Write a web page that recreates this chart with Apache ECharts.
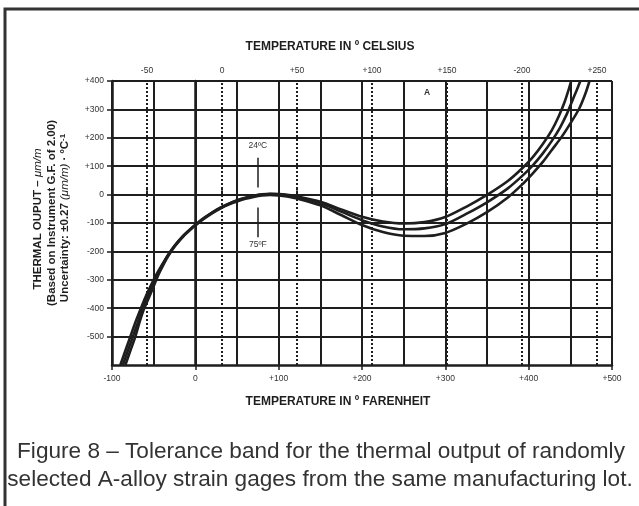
<!DOCTYPE html>
<html><head><meta charset="utf-8">
<script src="https://cdn.jsdelivr.net/npm/echarts@6/dist/echarts.min.js"></script>
<style>html,body{margin:0;padding:0;background:#fff}#c{width:639px;height:506px}</style>
</head><body><div id="c"></div>
<script>
// ---- data (°F, µm/m) ----
const curveA = [[-90,-600],[-84,-550],[-78,-500],[-72,-450],[-66,-405],[-60,-362],[-53,-318],[-47,-283],[-41,-252],[-36,-228],[-32,-210],[-25,-181],[-15,-147],[-5,-119],[0,-106],[10,-83],[20,-63],[30,-46],[40,-32],[50,-20],[60,-11],[70,-4],[80,1],[90,3],[100,2],[110,-1],[125,-8],[150,-25],[175,-52],[200,-78],[225,-95],[250,-102],[275,-97],[300,-79],[325,-43],[350,-1],[375,48],[392,92],[405,132],[417,178],[428,228],[436,275],[443,325],[448,370],[451,400]];
const curveB = [[-87,-600],[-81,-550],[-75,-500],[-69,-450],[-64,-406],[-57,-358],[-51,-316],[-45,-280],[-40,-251],[-36,-229],[-32,-209],[-25,-180],[-15,-146],[-5,-119],[0,-107],[10,-84],[20,-64],[30,-47],[40,-33],[50,-21],[60,-12],[70,-5],[80,0],[90,2],[100,1],[110,-2],[125,-10],[150,-30],[175,-60],[200,-90],[225,-112],[250,-122],[275,-119],[300,-104],[325,-68],[350,-27],[375,22],[392,65],[405,103],[417,145],[428,190],[438,238],[446,285],[453,335],[458,370],[462,400]];
const curveC = [[-84,-600],[-78,-550],[-72,-500],[-67,-450],[-62,-406],[-55,-358],[-49,-316],[-44,-280],[-39,-251],[-35,-229],[-31,-209],[-24,-180],[-14,-146],[-4,-119],[0,-109],[10,-86],[20,-66],[30,-49],[40,-35],[50,-24],[60,-15],[70,-8],[80,-3],[90,-1],[100,-3],[110,-7],[125,-16],[150,-38],[175,-72],[200,-107],[225,-132],[250,-145],[275,-146],[300,-135],[325,-103],[350,-62],[375,-10],[392,35],[405,75],[417,115],[428,158],[440,205],[451,255],[461,305],[468,355],[473,400]];
const yTicks = [400,300,200,100,0,-100,-200,-300,-400,-500];
const fTicks = [-100,0,100,200,300,400,500];
const celsiusTicks = [-50,0,50,100,150,200,250];
const celsiusLabels = ['-50','0','+50','+100','+150','-200','+250'];
const markerF = 75;
const markerUpper = [130,25];
const markerLower = [-45,-150];
const markerLabels = ['24ºC','75ºF'];

const cToF = c => c*1.8+32;
const celsiusInF = celsiusTicks.map(cToF);
const sign = v => v>0 ? '+'+v : String(v);
const DARK = '#1e1e1e';
const NARROW = '"Liberation Sans Narrow","Liberation Sans",Arial,sans-serif';

const chart = echarts.init(document.getElementById('c'), null, {renderer:'canvas'});
const lineSeries = (d) => ({type:'line', data:d, smooth:0.3, symbol:'none', xAxisIndex:0, yAxisIndex:0,
  lineStyle:{color:DARK, width:2.6}, clip:true, silent:true, z:5});

const option = {
  animation:false,
  backgroundColor:'#fff',
  grid:{left:112, top:81, width:500, height:284, containLabel:false},
  xAxis:[{
    type:'value', min:-100, max:500, position:'bottom',
    axisLine:{show:true, onZero:false, lineStyle:{color:DARK, width:2.5}},
    axisTick:{show:true, customValues:fTicks, length:5, lineStyle:{color:DARK, width:1.5}},
    axisLabel:{customValues:fTicks, formatter:v=>sign(v), color:'#333', fontSize:8.5, fontFamily:NARROW, margin:9},
    splitLine:{show:false}
  },{
    type:'value', min:-100, max:500, position:'top',
    axisLine:{show:false},
    axisTick:{show:true, customValues:celsiusInF, length:6, inside:false, lineStyle:{color:DARK, width:2, type:[2,2]}},
    axisLabel:{customValues:celsiusInF, formatter:v=>{const i=celsiusInF.findIndex(x=>Math.abs(x-v)<0.01);return i>=0?celsiusLabels[i]:'';}, color:'#333', fontSize:8.5, fontFamily:NARROW, margin:6},
    splitLine:{show:false}
  },{
    type:'value', min:-100, max:500, interval:50, position:'bottom',
    axisLine:{show:false}, axisTick:{show:false}, axisLabel:{show:false},
    splitLine:{show:true, lineStyle:{color:DARK, width:2}}
  }],
  yAxis:[{
    type:'value', min:-600, max:400, interval:100,
    axisLine:{show:true, onZero:false, lineStyle:{color:DARK, width:2.5}},
    axisTick:{show:true, customValues:yTicks, length:5, lineStyle:{color:DARK, width:1.5}},
    axisLabel:{customValues:yTicks, formatter:v=>sign(v), color:'#333', fontSize:8.5, fontFamily:NARROW, margin:8},
    splitLine:{show:true, lineStyle:{color:DARK, width:2}}
  },{
    type:'value', min:-600, max:400, position:'right',
    axisLine:{show:true, lineStyle:{color:DARK, width:2.5}}, axisTick:{show:false}, axisLabel:{show:false}, splitLine:{show:false}
  }],
  series:[
    Object.assign(lineSeries(curveA), {
      markLine:{silent:true, symbol:'none', label:{show:false}, animation:false,
        lineStyle:{color:DARK, width:2, type:[2,2]},
        data: celsiusInF.map(f=>({xAxis:f}))
      }
    }),
    lineSeries(curveB),
    lineSeries(curveC),
    {type:'line', data:[], xAxisIndex:0, yAxisIndex:0, silent:true,
      markLine:{silent:true, symbol:'none', label:{show:false}, animation:false,
        lineStyle:{color:DARK, width:1.5, type:'solid'},
        data:[
          [{coord:[markerF, markerUpper[0]]},{coord:[markerF, markerUpper[1]]}],
          [{coord:[markerF, markerLower[0]]},{coord:[markerF, markerLower[1]]}]
        ]},
      markPoint:{silent:true, symbol:'rect', symbolSize:1, itemStyle:{color:'rgba(0,0,0,0)'},
        label:{show:true, position:'inside', color:'#333', fontSize:8.5, fontFamily:NARROW, formatter:p=>p.name},
        data:[
          {name:markerLabels[0], coord:[markerF,172]},
          {name:markerLabels[1], coord:[markerF,-177]},
          {name:'A', coord:[278,358], label:{fontWeight:'bold', fontSize:8.5, color:'#333'}}
        ]}
    }
  ],
  graphic:[
    {type:'rect', shape:{x:5, y:9, width:700, height:600}, style:{fill:'none', stroke:'#333', lineWidth:3}, z:100},
    {type:'text', x:330, y:47, style:{text:'TEMPERATURE IN º CELSIUS', font:'bold 12px '+NARROW, fill:DARK, align:'center', verticalAlign:'middle'}},
    {type:'text', x:338, y:402, style:{text:'TEMPERATURE IN º FARENHEIT', font:'bold 12px '+NARROW, fill:DARK, align:'center', verticalAlign:'middle'}},
    {type:'text', x:38, y:219, rotation:Math.PI/2, style:{text:'{b|THERMAL OUPUT – }{i|μm/m}', rich:{b:{font:'bold 11.5px '+NARROW, fill:DARK}, i:{font:'italic 11.5px '+NARROW, fill:DARK}}, align:'center', verticalAlign:'middle'}},
    {type:'text', x:52, y:213, rotation:Math.PI/2, style:{text:'(Based on Instrument G.F. of 2.00)', font:'bold 11.5px '+NARROW, fill:DARK, align:'center', verticalAlign:'middle'}},
    {type:'text', x:65, y:218, rotation:Math.PI/2, style:{text:'{b|Uncertainty: ±0.27 }{i|(μm/m)}{b| · ºC}{s|-1}', rich:{b:{font:'bold 11.5px '+NARROW, fill:DARK}, i:{font:'italic 11.5px '+NARROW, fill:DARK}, s:{font:'bold 8px '+NARROW, fill:DARK, verticalAlign:'top', padding:[0,0,5,0]}}, align:'center', verticalAlign:'middle'}},
    {type:'text', x:321, y:452, style:{text:'Figure 8 – Tolerance band for the thermal output of randomly', font:'22.6px "Liberation Sans",Arial,sans-serif', fill:'#333', align:'center', verticalAlign:'middle'}},
    {type:'text', x:320, y:480, style:{text:'selected A-alloy strain gages from the same manufacturing lot.', font:'22.6px "Liberation Sans",Arial,sans-serif', fill:'#333', align:'center', verticalAlign:'middle'}}
  ]
};
chart.setOption(option);
</script></body></html>
